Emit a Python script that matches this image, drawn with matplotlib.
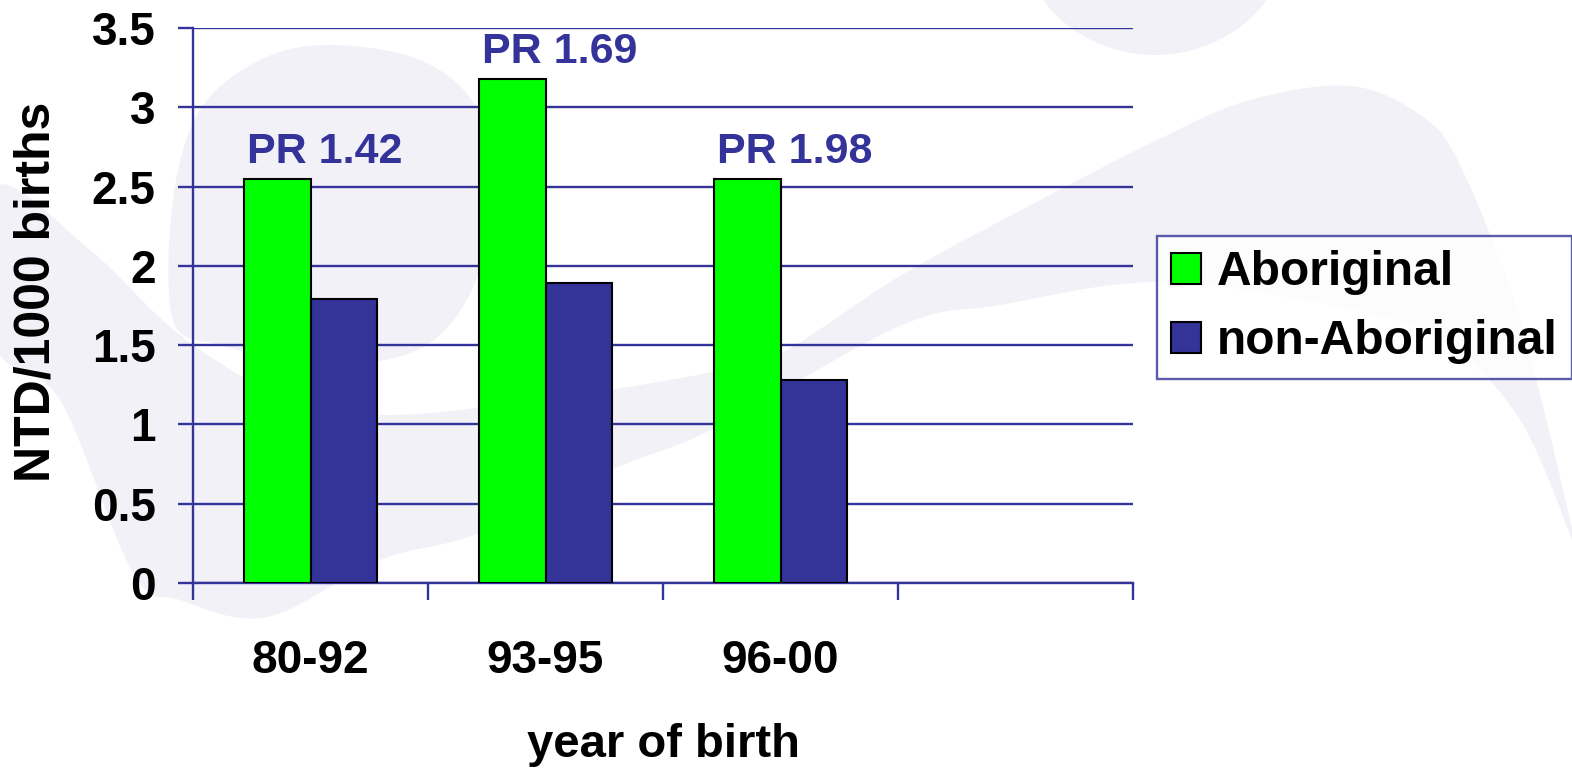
import matplotlib
matplotlib.use("Agg")
import matplotlib.pyplot as plt
from matplotlib.patches import Ellipse, Polygon, Patch
import numpy as np

categories = ["80-92", "93-95", "96-00"]
aboriginal = [2.55, 3.18, 2.55]
non_aboriginal = [1.79, 1.89, 1.28]
pr_labels = ["PR 1.42", "PR 1.69", "PR 1.98"]
y_ticks = [0, 0.5, 1, 1.5, 2, 2.5, 3, 3.5]
y_tick_labels = ["0", "0.5", "1", "1.5", "2", "2.5", "3", "3.5"]

GREEN = "#00ff00"
NAVY = "#333399"
BG = "#f2f1f8"
FONT = "Liberation Sans"

W, H = 1572, 770
fig = plt.figure(figsize=(W / 100, H / 100), dpi=100)
fig.patch.set_facecolor("white")


def smooth_closed(pts, n=20):
    p = np.asarray(pts, float)
    m = len(p)
    out = []
    for i in range(m):
        p0, p1, p2, p3 = p[i - 1], p[i], p[(i + 1) % m], p[(i + 2) % m]
        for t in np.linspace(0, 1, n, endpoint=False):
            t2, t3 = t * t, t * t * t
            out.append(0.5 * ((2 * p1) + (-p0 + p2) * t
                              + (2 * p0 - 5 * p1 + 4 * p2 - p3) * t2
                              + (-p0 + 3 * p1 - 3 * p2 + p3) * t3))
    out = np.array(out)
    return np.column_stack([out[:, 0] / W, 1 - out[:, 1] / H])


# faint decorative background logo shapes
blob = [(173, 320), (173, 200), (200, 110), (260, 60), (330, 45), (420, 60),
        (475, 105), (495, 180), (480, 270), (440, 335), (380, 361), (300, 360),
        (220, 345)]
band = [(-5, 187), (90, 250), (180, 335), (280, 395), (380, 415), (540, 400),
        (713, 372), (783, 352), (900, 276), (1029, 206), (1157, 140), (1250, 100),
        (1350, 86), (1420, 115), (1460, 165), (1520, 320), (1575, 540),
        (1580, 560), (1520, 420), (1440, 340), (1329, 305), (1157, 282),
        (1000, 305), (900, 326), (713, 429), (613, 469), (480, 533), (380, 560),
        (267, 617), (180, 600), (133, 573), (60, 400), (-5, 344)]
for pts in (blob, band):
    fig.patches.append(Polygon(smooth_closed(pts), closed=True,
                               transform=fig.transFigure, facecolor=BG,
                               edgecolor="none", zorder=-5))
fig.patches.append(Ellipse((1155 / W, 1 + 70 / H), 270 / W, 250 / H,
                           transform=fig.transFigure, facecolor=BG,
                           edgecolor="none", zorder=-5))

ax = fig.add_axes([193 / W, 1 - 583 / H, (1133 - 193) / W, (583 - 28) / H])
ax.set_zorder(2)
ax.patch.set_alpha(0)

x = np.arange(len(categories))
bw = 0.285
ax.bar(x - bw / 2, aboriginal, bw, color=GREEN, edgecolor="black",
       linewidth=1.5, label="Aboriginal", zorder=3)
ax.bar(x + bw / 2, non_aboriginal, bw, color=NAVY, edgecolor="black",
       linewidth=1.5, label="non-Aboriginal", zorder=3)

for xi, v, t in zip(x, aboriginal, pr_labels):
    ax.text(xi + 0.06, v + 0.1, t, ha="center", va="baseline",
            color=NAVY, fontsize=31, fontweight="bold", family=FONT)

ax.set_xlim(-0.5, 3.5)
ax.set_ylim(0, 3.5)
ax.set_yticks(y_ticks)
ax.set_yticklabels(y_tick_labels)
ax.yaxis.grid(True, color=NAVY, linewidth=1.7, zorder=1)
ax.set_axisbelow(True)

ax.set_xticks([-0.5, 0.5, 1.5, 2.5, 3.5])
ax.set_xticklabels([])
ax.set_xticks(x, minor=True)
ax.set_xticklabels(categories, minor=True)
ax.tick_params(axis="x", which="major", length=12, color=NAVY, width=1.7)
ax.tick_params(axis="x", which="minor", length=0, pad=40, labelsize=33)
ax.tick_params(axis="y", length=11, color=NAVY, width=1.7, pad=16, labelsize=33)
for lab in ax.get_xticklabels(minor=True) + ax.get_yticklabels():
    lab.set_fontweight("bold")
    lab.set_family(FONT)

for s in ["top", "right"]:
    ax.spines[s].set_visible(False)
for s in ["left", "bottom"]:
    ax.spines[s].set_color(NAVY)
    ax.spines[s].set_linewidth(1.7)

fig.text(663 / W, 1 - 745 / H, "year of birth", ha="center", va="center",
         fontsize=34, fontweight="bold", family=FONT)
fig.text(37 / W, 1 - 292 / H, "NTD/1000 births", ha="center", va="center",
         rotation=90, fontsize=36, fontweight="bold", family=FONT)

handles = [Patch(facecolor=GREEN, edgecolor="black", linewidth=1.5),
           Patch(facecolor=NAVY, edgecolor="black", linewidth=1.5)]
leg = fig.legend(handles, ["Aboriginal", "non-Aboriginal"], loc="upper left",
                 bbox_to_anchor=(1157 / W, 1 - 236 / H), frameon=True,
                 fancybox=False,
                 prop={"family": FONT, "weight": "bold", "size": 34.5},
                 handlelength=0.62, handleheight=0.62, handletextpad=0.32,
                 borderpad=0.3, labelspacing=0.5, borderaxespad=0)
leg.set_zorder(3)
fr = leg.get_frame()
fr.set_edgecolor(NAVY)
fr.set_linewidth(1.7)
fr.set_facecolor((1, 1, 1, 0))

fig.savefig("out.png", dpi=100)
